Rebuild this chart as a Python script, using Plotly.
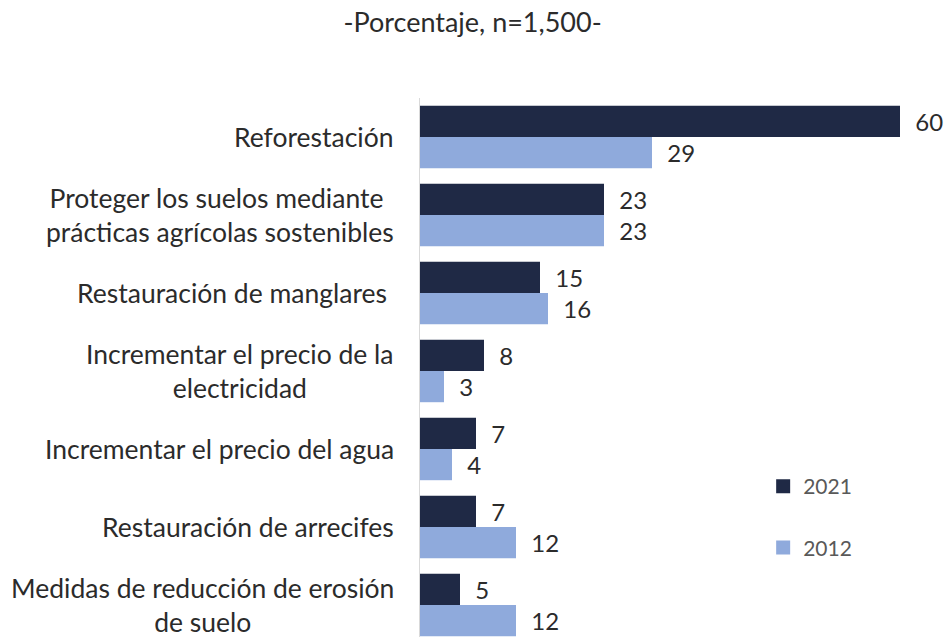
import plotly.graph_objects as go

categories = [
    "Reforestación",
    "Proteger los suelos mediante\u00a0<br>prácticas agrícolas sostenibles",
    "Restauración de manglares\u00a0",
    "Incrementar el precio de la<br>electricidad",
    "Incrementar el precio del agua",
    "Restauración de arrecifes",
    "Medidas de reducción de erosión<br>de suelo",
]
values_2021 = [60, 23, 15, 8, 7, 7, 5]
values_2012 = [29, 23, 16, 3, 4, 12, 12]
series_names = ["2021", "2012"]
colors = ["#1f2945", "#8faadc"]

FONT = "Lato"
ids = list(range(len(categories)))

fig = go.Figure()
for name, vals, col in zip(series_names, [values_2021, values_2012], colors):
    fig.add_trace(go.Bar(
        y=ids, x=vals, orientation="h", name=name, legendgroup=name, showlegend=False,
        marker=dict(color=col, line=dict(width=0)),
        text=vals, texttemplate="\u00a0\u00a0%{x}", textposition="outside",
        textfont=dict(family=FONT, size=24, color="#2b2b2b"),
        cliponaxis=False, constraintext="none",
    ))
# legend entries with square swatches
for name, col in zip(series_names, colors):
    fig.add_trace(go.Scatter(
        x=[None], y=[None], mode="markers", name=name, legendgroup=name,
        marker=dict(symbol="square", size=14, color=col),
    ))

annotations = []
for i, cat in enumerate(categories):
    annotations.append(dict(
        x=0, xref="paper", y=i, yref="y", text=cat, showarrow=False,
        xanchor="right", yanchor="middle", align="center", xshift=-24,
        font=dict(family=FONT, size=26.5, color="#2b2b2b"),
    ))

fig.update_layout(
    width=946, height=637,
    margin=dict(l=420, r=0, t=98, b=0),
    paper_bgcolor="white", plot_bgcolor="white",
    barmode="group", bargap=0.2, bargroupgap=0,
    title=dict(text="-Porcentaje, n=1,500-", x=0.4995, xref="container", xanchor="center",
               y=0.965, yref="container", yanchor="middle",
               font=dict(family=FONT, size=27, color="#2b2b2b")),
    xaxis=dict(range=[0, 65.75], visible=False, fixedrange=True),
    yaxis=dict(range=[6.41, -0.5], showticklabels=False, showgrid=False, zeroline=False,
               showline=True, linecolor="#d9d9d9", linewidth=1, ticks="", fixedrange=True),
    legend=dict(x=0.6524, y=0.317, xanchor="left", yanchor="top", traceorder="grouped",
                tracegroupgap=31, itemwidth=30,
                font=dict(family=FONT, size=21, color="#595959"),
                bgcolor="rgba(0,0,0,0)"),
    annotations=annotations,
    font=dict(family=FONT),
)

fig.write_html(
    "out.html",
    config={"displayModeBar": False},
    post_script="document.body.style.margin='0';document.body.style.overflow='hidden';",
)
